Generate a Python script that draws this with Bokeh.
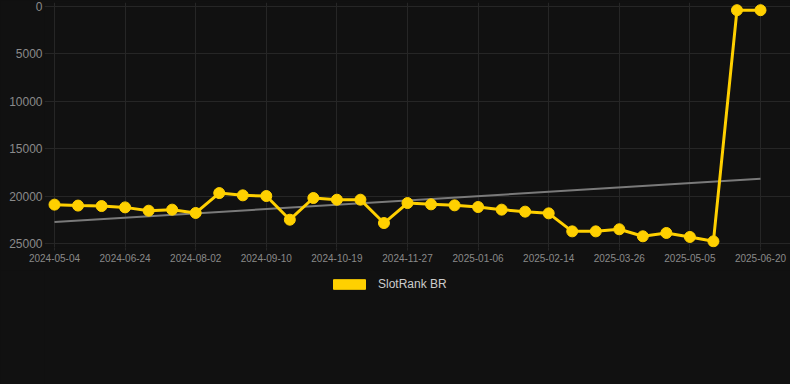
from bokeh.plotting import figure
from bokeh.layouts import column
from bokeh.models import (Range1d, FixedTicker, Legend, LegendItem,
                          ColumnDataSource, GlobalInlineStyleSheet)
from bokeh.embed import file_html
from bokeh.resources import INLINE

# ---- data ----
tick_labels = ["2024-05-04", "2024-06-24", "2024-08-02", "2024-09-10",
               "2024-10-19", "2024-11-27", "2025-01-06", "2025-02-14",
               "2025-03-26", "2025-05-05", "2025-06-20"]
rank_values = [20900, 21000, 21050, 21190, 21540, 21430, 21780, 19680,
               19920, 19990, 22490, 20200, 20380, 20380, 22840, 20730,
               20870, 20975, 21150, 21430, 21640, 21820, 23720, 23720,
               23500, 24240, 23890, 24310, 24770, 390, 390]
trend_values = [22740, 18180]
series_name = "SlotRank BR"
y_ticks = [0, 5000, 10000, 15000, 20000, 25000]

BG = "#111111"
GOLD = "#FFD000"
GRID = "#262626"
LABEL = "#8a8a8a"
FONT = "Liberation Sans"

n = len(rank_values)
xs = list(range(n))
tick_step = 3
tick_pos = [i * tick_step for i in range(len(tick_labels))]

p = figure(width=790, height=270, output_backend="svg",
           toolbar_location=None,
           x_range=Range1d(-0.425, 31.275), y_range=Range1d(25422, -422),
           min_border_left=44, min_border_right=0, min_border_top=2,
           min_border_bottom=23,
           background_fill_color=BG, border_fill_color=BG,
           outline_line_color=None)
p.stylesheets = [GlobalInlineStyleSheet(css="body{background:#111111;}")]

# trend line
p.line([xs[0], xs[-1]], trend_values, line_color="#7a7a7a", line_width=2)

# main series
src = ColumnDataSource(dict(x=xs, y=rank_values))
p.line("x", "y", source=src, line_color=GOLD, line_width=3)
p.scatter("x", "y", source=src, size=11, fill_color=GOLD, line_color=GOLD)

# axes
p.xaxis.ticker = FixedTicker(ticks=tick_pos)
p.xaxis.major_label_overrides = {tp: lab for tp, lab in zip(tick_pos, tick_labels)}
p.yaxis.ticker = FixedTicker(ticks=y_ticks)
for ax in (p.xaxis, p.yaxis):
    ax.axis_line_color = None
    ax.major_tick_line_color = GRID
    ax.minor_tick_line_color = None
    ax.major_label_text_color = LABEL
    ax.major_label_text_font = FONT
p.xaxis.major_tick_out = 3
p.xaxis.major_tick_in = 0
p.xaxis.major_label_standoff = 3
p.xaxis.major_label_text_font_size = "10px"
p.yaxis.major_tick_out = 0
p.yaxis.major_tick_in = 0
p.yaxis.major_label_standoff = 2
p.yaxis.major_label_text_font_size = "12px"

p.xgrid.grid_line_color = GRID
p.ygrid.grid_line_color = GRID

# ---- legend strip below the chart ----
q = figure(width=790, height=114, output_backend="svg", toolbar_location=None,
           x_range=Range1d(0, 1), y_range=Range1d(0, 1),
           x_axis_location=None, y_axis_location=None,
           min_border_left=0, min_border_right=0, min_border_top=0,
           min_border_bottom=0,
           background_fill_color=BG, border_fill_color=BG,
           outline_line_color=None)
q.xgrid.visible = False
q.ygrid.visible = False
nan = float("nan")
swatch = q.quad(left=[nan], right=[nan], top=[nan], bottom=[nan],
                fill_color=GOLD, line_color=GOLD)
legend = Legend(items=[LegendItem(label=series_name, renderers=[swatch])],
                orientation="horizontal", location=(285, 93),
                glyph_width=40, glyph_height=12,
                label_text_font=FONT, label_text_font_size="12px",
                label_text_color="#cccccc", label_standoff=9,
                background_fill_alpha=0, border_line_alpha=0,
                margin=0, padding=0)
q.add_layout(legend, "center")

layout = column(p, q, spacing=0)
open("out.html", "w").write(file_html(layout, INLINE))
